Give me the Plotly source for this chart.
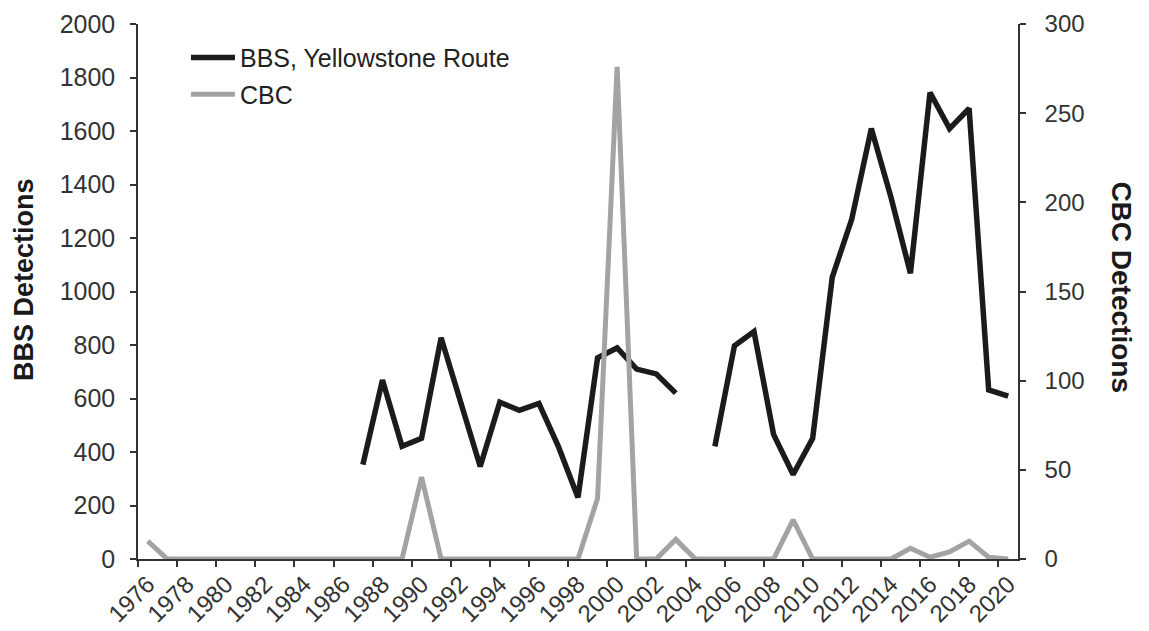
import plotly.graph_objects as go

years = list(range(1976, 2021))

bbs_years = list(range(1987, 2021))
bbs_values = [353, 669, 421, 451, 827, 588, 346, 586, 556, 582, 420, 230,
              752, 789, 710, 692, 620, None, 421, 797, 850, 466, 316, 451,
              1053, 1271, 1609, 1353, 1068, 1744, 1609, 1684, 632, 609]

cbc_years = list(range(1976, 2021))
cbc_values = [10, 0, 0, 0, 0, 0, 0, 0, 0, 0, 0, 0, 0, 0, 46, 0, 0, 0, 0, 0,
              0, 0, 0, 34, 276, 0, 0, 11, 0, 0, 0, 0, 0, 22, 0, 0, 0, 0, 0, 6,
              1, 4, 10, 1, 0]

tick_years = list(range(1976, 2021, 2))
tick_labels = [str(y) for y in tick_years]

FONT = "Liberation Sans, Arial, sans-serif"
AX = "#333333"

fig = go.Figure()
fig.add_trace(go.Scatter(
    x=bbs_years, y=bbs_values, mode="lines", name="BBS, Yellowstone Route",
    line=dict(color="#1b1b1b", width=5.5), connectgaps=False,
    yaxis="y", legend="legend"))
fig.add_trace(go.Scatter(
    x=cbc_years, y=cbc_values, mode="lines", name="CBC",
    line=dict(color="#a3a3a3", width=5), yaxis="y2", legend="legend2"))

fig.update_layout(
    width=1149, height=631,
    paper_bgcolor="white", plot_bgcolor="white",
    margin=dict(l=138, r=131, t=24, b=72),
    font=dict(family=FONT, size=22, color=AX),
    xaxis=dict(
        range=[1975.5, 2020.5], tickmode="array", tickvals=tick_years,
        ticktext=tick_labels, tickangle=-45, ticks="", showgrid=False,
        zeroline=False, showline=True, linecolor=AX, linewidth=1.5,
        automargin=False, tickfont=dict(size=24, color=AX),
        minor=dict(tick0=1975.5, dtick=2, ticks="outside", ticklen=6,
                   tickcolor=AX, tickwidth=1.5, showgrid=False)),
    yaxis=dict(
        range=[0, 2000], dtick=200, ticks="outside", ticklen=6,
        tickcolor=AX, tickwidth=1.5, showgrid=False, zeroline=False,
        showline=True, linecolor=AX, linewidth=1.5, automargin=False,
        ticklabelstandoff=10, tickfont=dict(size=25, color=AX)),
    yaxis2=dict(
        range=[0, 300], dtick=50, overlaying="y", side="right",
        ticks="outside", ticklen=6, tickcolor=AX, tickwidth=1.5,
        showgrid=False, zeroline=False, showline=True, linecolor=AX,
        linewidth=1.5, automargin=False, ticklabelstandoff=14,
        tickfont=dict(size=24, color=AX)),
    legend=dict(x=0.0545, y=0.98, xanchor="left", yanchor="top",
                bgcolor="rgba(0,0,0,0)", font=dict(size=25, color="#222222"),
                itemwidth=44),
    legend2=dict(x=0.0545, y=0.911, xanchor="left", yanchor="top",
                 bgcolor="rgba(0,0,0,0)", font=dict(size=25, color="#222222"),
                 itemwidth=44),
    showlegend=True,
    annotations=[
        dict(text="<b>BBS Detections</b>", xref="paper", yref="paper",
             x=-0.1295, y=0.5215, xanchor="center", yanchor="middle",
             textangle=-90, showarrow=False,
             font=dict(size=27, color="#1a1a1a", family=FONT)),
        dict(text="<b>CBC Detections</b>", xref="paper", yref="paper",
             x=1.118, y=0.508, xanchor="center", yanchor="middle",
             textangle=90, showarrow=False,
             font=dict(size=28, color="#1a1a1a", family=FONT)),
    ],
)

fig.write_html("out.html",
               config={"displayModeBar": False},
               post_script="document.body.style.margin='0';"
                           "document.body.style.padding='0';")
